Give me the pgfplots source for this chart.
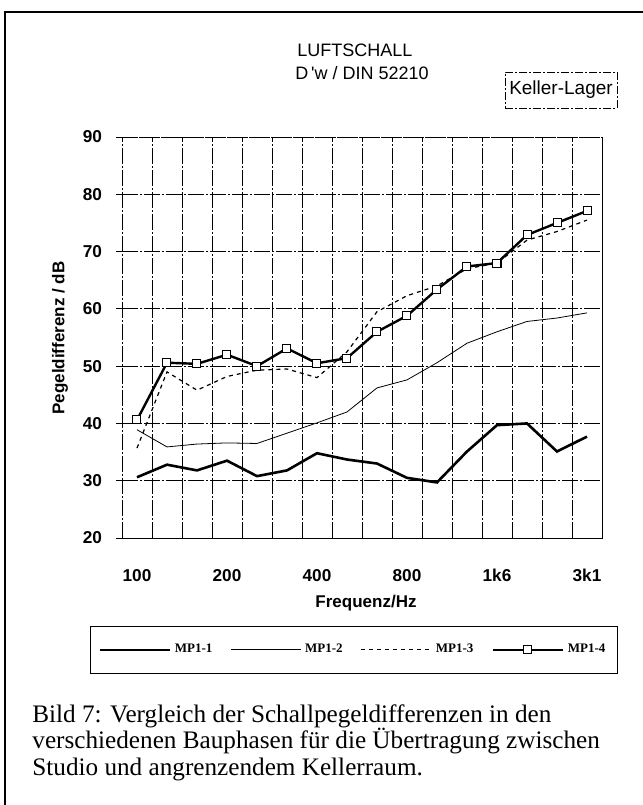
\documentclass[border=0pt]{standalone}
\usepackage{fontspec}
\setmainfont{Liberation Serif}
\newfontfamily\arial{Liberation Sans}
\usepackage{pgfplots}
\pgfplotsset{compat=1.18}

% third-octave bands 100 Hz ... 3150 Hz at x = 0 ... 15
\pgfplotstableread{
i  mpa  mpb  mpc  mpd
0  30.6 38.9 35.7 40.6
1  32.8 35.9 49.0 50.6
2  31.8 36.4 45.8 50.4
3  33.5 36.6 48.2 52.0
4  30.8 36.5 49.3 50.0
5  31.8 38.3 49.5 53.1
6  34.8 40.1 48.0 50.5
7  33.7 42.0 52.5 51.4
8  33.0 46.2 59.5 56.0
9  30.5 47.6 62.3 58.8
10 29.7 50.6 64.0 63.4
11 35.1 54.0 67.0 67.4
12 39.7 56.0 68.0 68.0
13 40.0 57.8 72.0 72.9
14 35.1 58.4 73.5 75.0
15 37.7 59.3 75.5 77.1
}\pegel

\tikzset{scan/.style={black, line width=0.45pt, dash pattern=on 8pt off 1pt on 1pt off 1pt}}

\begin{document}
\begin{tikzpicture}
\useasboundingbox (0,0) rectangle (321.5pt,402.5pt);
\draw[line width=1pt] (2.5pt,0) -- (2.5pt,396.5pt) -- (321.5pt,396.5pt);

\begin{axis}[
  at={(61pt,133.5pt)}, anchor=south west,
  scale only axis, width=240pt, height=200.5pt,
  xmin=-0.5, xmax=15.5, ymin=20, ymax=90,
  xtick={0,3,6,9,12,15},
  xticklabels={100,200,400,800,1k6,3k1},
  minor xtick={-0.5,0.5,...,15.5},
  xminorgrids, ymajorgrids,
  ytick={20,30,...,90},
  ytick pos=left,
  tick align=outside,
  major tick length=3pt, minor tick length=0pt,
  major x tick style={draw=none},
  y tick style={black, line width=0.45pt},
  grid style={scan},
  minor grid style={scan},
  axis line style={scan},
  /pgf/number format/assume math mode=true,
  tick label style={font=\arial\bfseries\fontsize{8.6}{10}\selectfont},
  xticklabel style={yshift=-9pt},
  yticklabel style={xshift=-3.5pt},
  legend columns=4,
  legend style={at={(0.483,-0.279)}, anchor=center,
    draw=black, line width=0.5pt, inner xsep=4pt, inner ysep=7pt,
    font=\bfseries\fontsize{6.5}{7}\selectfont,
    /tikz/every even column/.append style={column sep=7pt}},
  legend image code/.code={\draw[mark repeat=2,mark phase=2,#1]
    plot coordinates {(0pt,0pt) (17.5pt,0pt) (35pt,0pt)};},
]
\addplot[black, line width=1.3pt, no markers] table[x=i, y=mpa] {\pegel};
\addlegendentry{MP1-1}
\addplot[black, line width=0.4pt, no markers] table[x=i, y=mpb] {\pegel};
\addlegendentry{MP1-2}
\addplot[black, line width=0.6pt, dash pattern=on 2pt off 2pt, no markers] table[x=i, y=mpc] {\pegel};
\addlegendentry{MP1-3}
\addplot[black, line width=1.2pt, mark=square*, mark size=2pt,
  mark options={solid, fill=white, line width=0.5pt}] table[x=i, y=mpd] {\pegel};
\addlegendentry{MP1-4}
\end{axis}

\begin{scope}[font=\arial]
\node[font=\arial\fontsize{9}{10}\selectfont] at (177.5pt,377.5pt) {LUFTSCHALL};
\node[font=\arial\fontsize{9}{10}\selectfont] at (181pt,366pt) {D\,'w / DIN 52210};
\node[draw, scan, solid, line width=0.4pt, dash pattern=on 4pt off 1pt on 1pt off 1pt,
  minimum width=56pt, minimum height=18pt, inner sep=1pt,
  font=\arial\fontsize{9.5}{10}\selectfont] at (280.5pt,357.5pt) {Keller-Lager};
\node[rotate=90, font=\arial\bfseries\fontsize{8.5}{10}\selectfont] at (30pt,233.5pt) {Pegeldifferenz / dB};
\node[font=\arial\bfseries\fontsize{8.5}{10}\selectfont] at (183pt,101pt) {Frequenz/Hz};
\end{scope}

\begin{scope}[every node/.style={anchor=base west, inner sep=0pt, font=\fontsize{12.6}{13.5}\selectfont}]
\node at (16pt,41.5pt) {Bild 7: Vergleich der Schallpegeldifferenzen in den};
\node at (16pt,28pt) {verschiedenen Bauphasen für die Übertragung zwischen};
\node at (16pt,14.5pt) {Studio und angrenzendem Kellerraum.};
\end{scope}
\end{tikzpicture}
\end{document}
